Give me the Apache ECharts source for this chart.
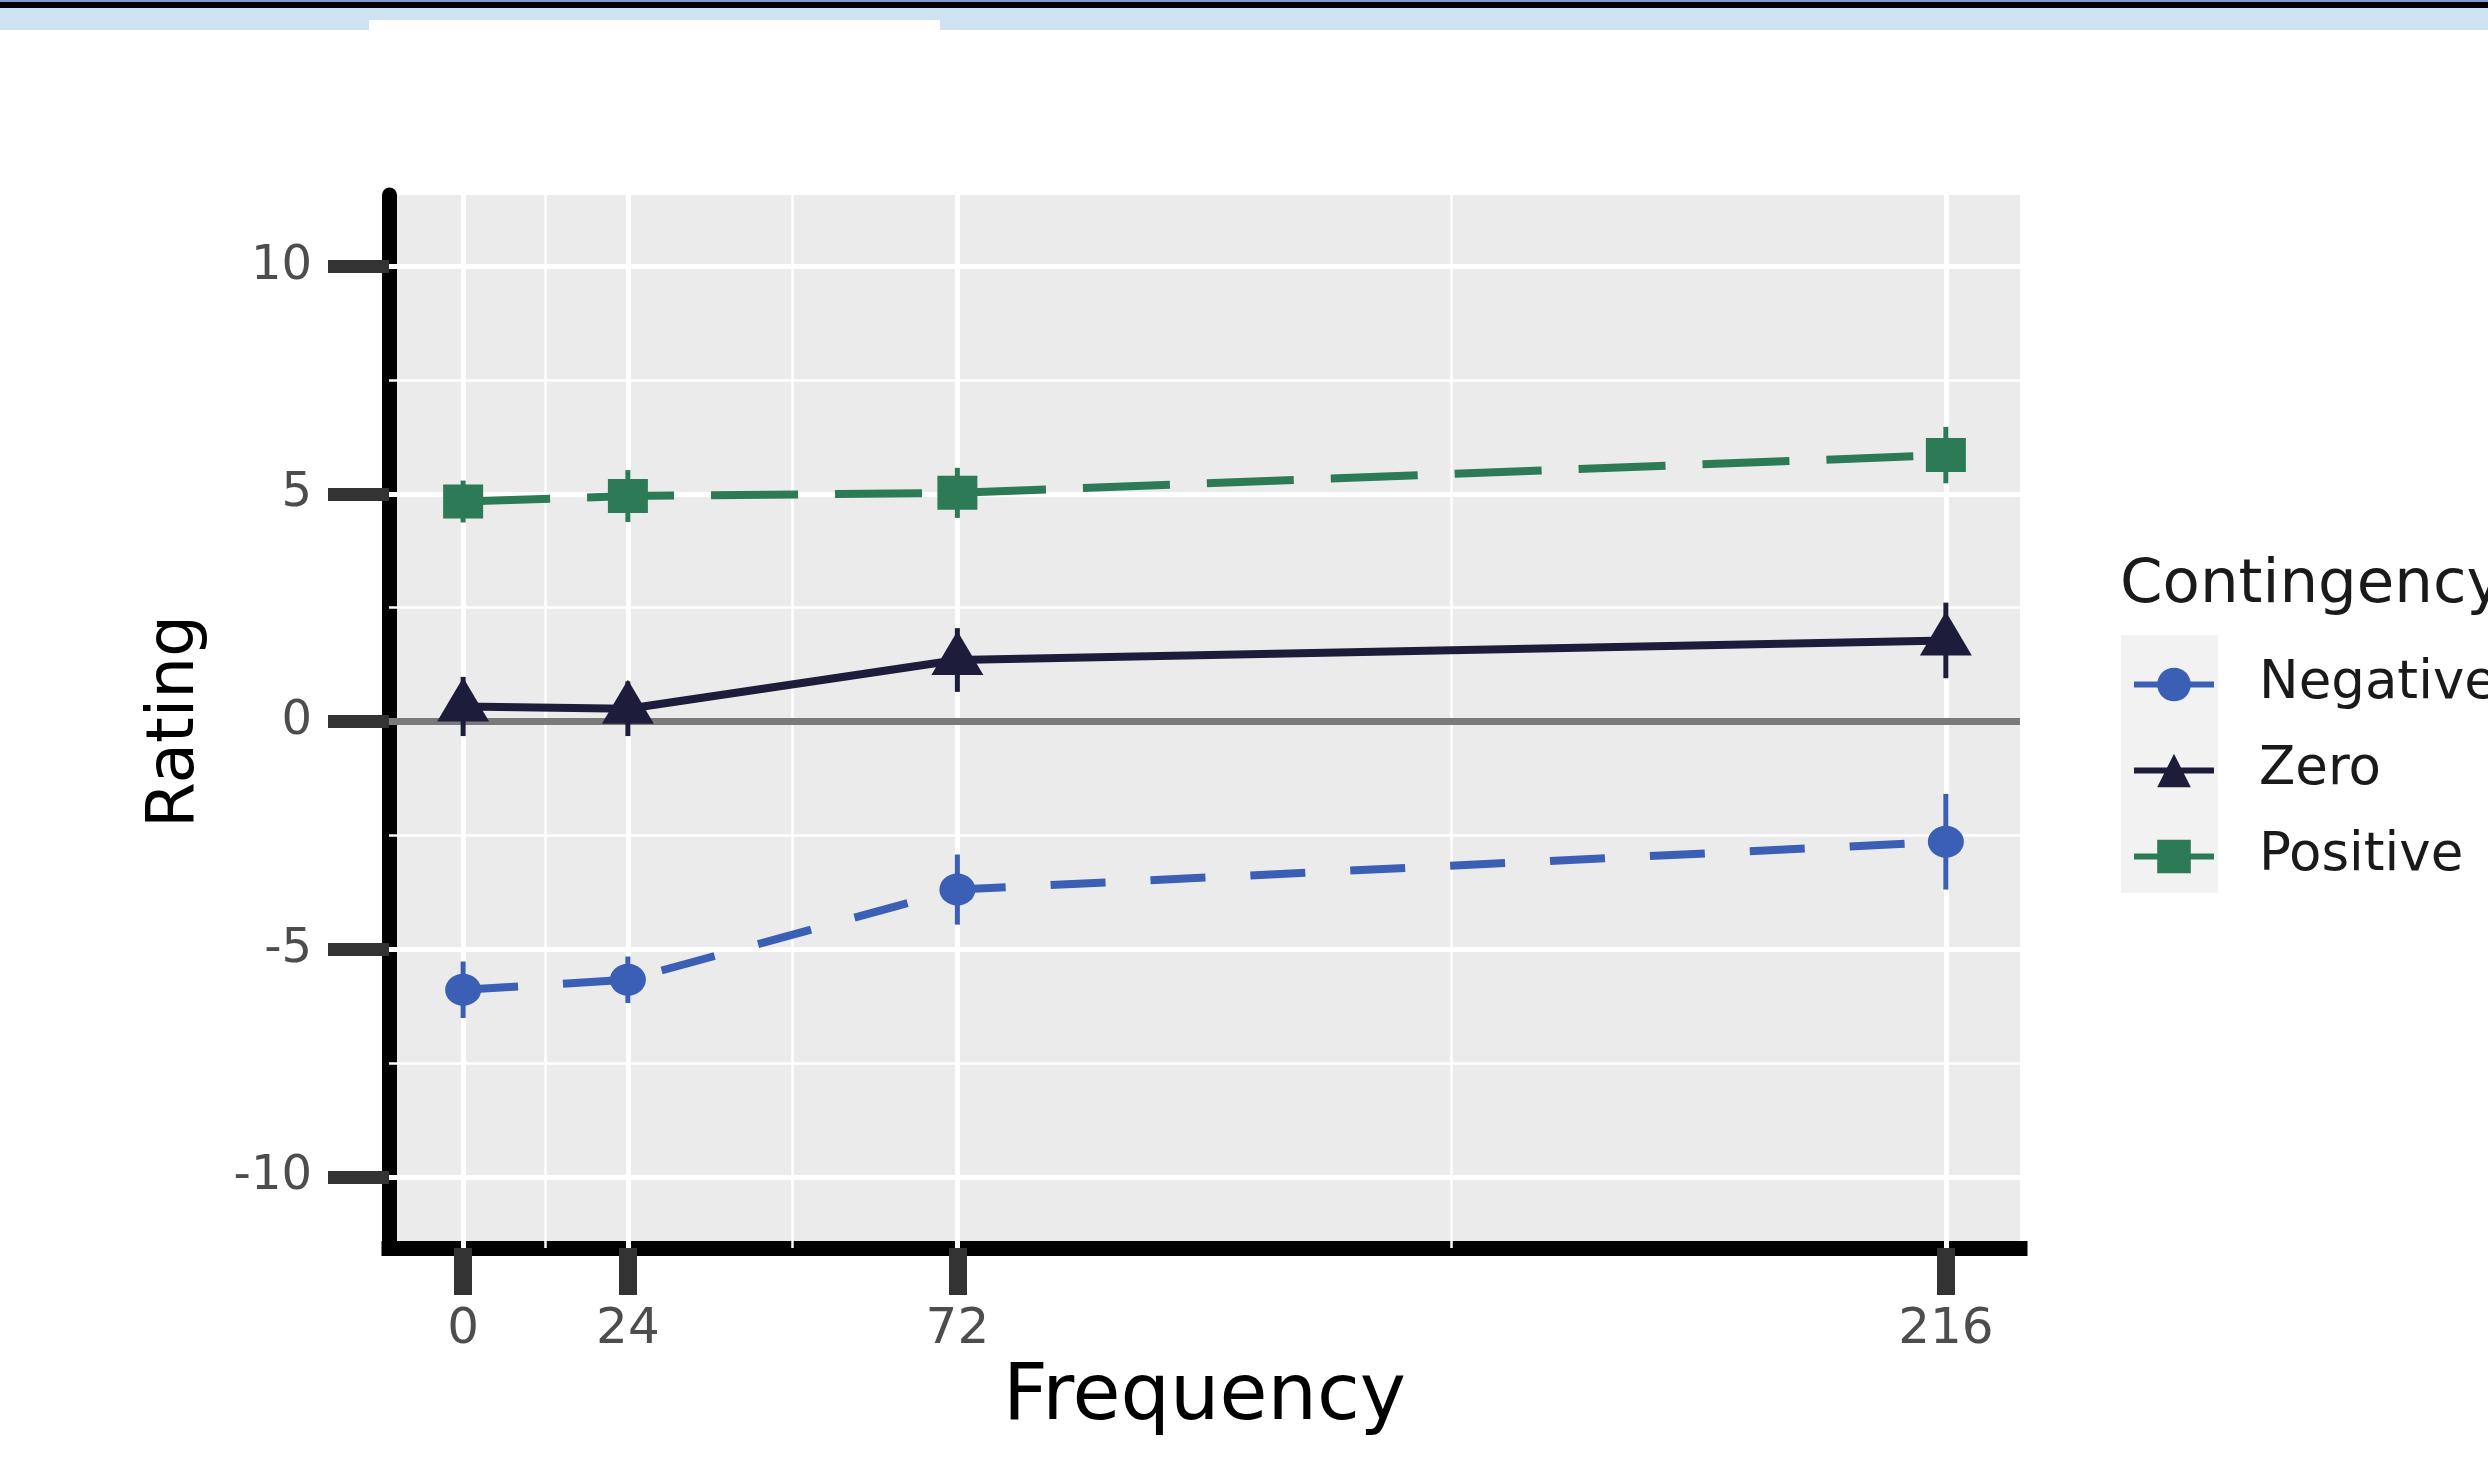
<!DOCTYPE html>
<html><head><meta charset="utf-8">
<script src="https://cdn.jsdelivr.net/npm/echarts@6/dist/echarts.min.js"></script>
<style>html,body{margin:0;padding:0;background:#fff}#chart{width:2488px;height:1479px}</style>
</head><body><div id="chart"></div>
<script>
// ---- data ----
const frequency = [0, 24, 72, 216];
const negativeMean = [-5.89, -5.67, -3.69, -2.64];
const negativeErr  = [0.62, 0.51, 0.77, 1.05];
const zeroMean     = [0.33, 0.28, 1.35, 1.78];
const zeroErr      = [0.65, 0.60, 0.70, 0.83];
const positiveMean = [4.83, 4.95, 5.02, 5.85];
const positiveErr  = [0.46, 0.57, 0.55, 0.62];
const xTickValues  = [0, 24, 72, 216];
const xMinorGrid   = [12, 48, 144];
const yTickValues  = [-10, -5, 0, 5, 10];
const yMinorGrid   = [-7.5, -2.5, 2.5, 7.5];
const seriesNames  = ['Negative', 'Zero', 'Positive'];

const FONT = 'DejaVu Sans';
const colors = { Negative: '#3A5FB5', Zero: '#1D1D3B', Positive: '#2C7A56' };

const chart = echarts.init(document.getElementById('chart'), null, { renderer: 'canvas' });

function points(means) { return frequency.map((f, i) => [f, means[i]]); }
function bars(means, errs) { return frequency.map((f, i) => [f, means[i] - errs[i], means[i] + errs[i]]); }

function errorSeries(name, means, errs) {
  return {
    type: 'custom', name: name + ' SE', z: 3, silent: true,
    data: bars(means, errs),
    encode: { x: 0, y: [1, 2] },
    renderItem(params, api) {
      const p1 = api.coord([api.value(0), api.value(1)]);
      const p2 = api.coord([api.value(0), api.value(2)]);
      return { type: 'line', shape: { x1: p1[0], y1: p1[1], x2: p2[0], y2: p2[1] },
               style: { stroke: colors[name], lineWidth: 5 } };
    }
  };
}

const gridLines = [];
yTickValues.forEach(v => gridLines.push({ yAxis: v, lineStyle: { color: '#FFFFFF', width: 5, type: 'solid' } }));
yMinorGrid.forEach(v => gridLines.push({ yAxis: v, lineStyle: { color: '#FFFFFF', width: 2.5, type: 'solid' } }));
xTickValues.forEach(v => gridLines.push({ xAxis: v, lineStyle: { color: '#FFFFFF', width: 5, type: 'solid' } }));
xMinorGrid.forEach(v => gridLines.push({ xAxis: v, lineStyle: { color: '#FFFFFF', width: 2.5, type: 'solid' } }));

const option = {
  backgroundColor: '#FFFFFF',
  animation: false,
  grid: { left: 389, top: 195, width: 1631, height: 1053, show: true, backgroundColor: '#EBEBEB', borderWidth: 0, outerBoundsMode: 'none' },
  title: { text: 'Contingency', left: 2120, top: 556, padding: 0,
           textStyle: { fontFamily: FONT, fontSize: 61, fontWeight: 'normal', color: '#1A1A1A', lineHeight: 61 } },
  legend: {
    data: seriesNames, orient: 'vertical', left: 2131, top: 658, padding: 0,
    itemWidth: 80, itemHeight: 42, itemGap: 33, selectedMode: false,
    lineStyle: { type: 'solid', width: 6 },
    textStyle: { fontFamily: FONT, fontSize: 53, color: '#1A1A1A', lineHeight: 53, padding: [0, 0, 0, 40] }
  },
  xAxis: {
    type: 'value', min: -10.8, max: 226.8,
    name: 'Frequency', nameLocation: 'middle', nameGap: 111,
    nameTextStyle: { fontFamily: FONT, fontSize: 78, color: '#000000' },
    axisLine: { show: true, onZero: false, lineStyle: { color: '#000000', width: 15, cap: 'square' } },
    axisTick: { show: true, length: 47, customValues: xTickValues, lineStyle: { color: '#333333', width: 18 } },
    axisLabel: { customValues: xTickValues, margin: 57, fontFamily: FONT, fontSize: 50, color: '#4D4D4D' },
    splitLine: { show: false }, minorTick: { show: false }
  },
  yAxis: {
    type: 'value', min: -11.56, max: 11.56,
    name: 'Rating', nameLocation: 'middle', nameGap: 180,
    nameTextStyle: { fontFamily: FONT, fontSize: 66, color: '#000000' },
    axisLine: { show: true, onZero: false, lineStyle: { color: '#000000', width: 15 } },
    axisTick: { show: true, length: 61, customValues: yTickValues, lineStyle: { color: '#333333', width: 13 } },
    axisLabel: { customValues: yTickValues, margin: 77, fontFamily: FONT, fontSize: 48, color: '#4D4D4D' },
    splitLine: { show: false }, minorTick: { show: false }
  },
  graphic: [
    { type: 'rect', shape: { x: 0, y: 0, width: 2488, height: 2 }, style: { fill: '#7F9CCF' }, silent: true },
    { type: 'rect', shape: { x: 0, y: 2, width: 2488, height: 6 }, style: { fill: '#000000' }, silent: true },
    { type: 'rect', shape: { x: 0, y: 8, width: 2488, height: 22 }, style: { fill: '#CFE2F3' }, silent: true },
    { type: 'rect', shape: { x: 369, y: 20, width: 571, height: 10 }, style: { fill: '#FFFFFF' }, silent: true },
    { type: 'rect', shape: { x: 2121, y: 635, width: 97, height: 258 }, style: { fill: '#F2F2F2' }, silent: true, z: -1 }
  ],
  series: [
    { type: 'line', name: 'grid', data: [], silent: true, showSymbol: false,
      markLine: { silent: true, symbol: ['none', 'none'], label: { show: false }, z: 1, animation: false, data: gridLines } },
    { type: 'line', name: 'hline', data: [], silent: true, showSymbol: false,
      markLine: { silent: true, symbol: ['none', 'none'], label: { show: false }, z: 1.5, animation: false,
                  data: [{ yAxis: 0, lineStyle: { color: '#7A7A7A', width: 7, type: 'solid' } }] } },
    errorSeries('Negative', negativeMean, negativeErr),
    errorSeries('Zero', zeroMean, zeroErr),
    errorSeries('Positive', positiveMean, positiveErr),
    { type: 'line', name: 'Negative', z: 4, data: points(negativeMean),
      symbol: 'circle', symbolSize: [36, 32],
      lineStyle: { color: colors.Negative, width: 8, type: [55, 45] },
      itemStyle: { color: colors.Negative } },
    { type: 'line', name: 'Zero', z: 4, data: points(zeroMean),
      symbol: 'triangle', symbolSize: [52, 44], symbolOffset: [0, -7],
      lineStyle: { color: colors.Zero, width: 8, type: 'solid' },
      itemStyle: { color: colors.Zero } },
    { type: 'line', name: 'Positive', z: 4, data: points(positiveMean),
      symbol: 'rect', symbolSize: [40, 34],
      lineStyle: { color: colors.Positive, width: 8, type: [87, 37] },
      itemStyle: { color: colors.Positive } }
  ]
};
chart.setOption(option);
</script>
</body></html>
